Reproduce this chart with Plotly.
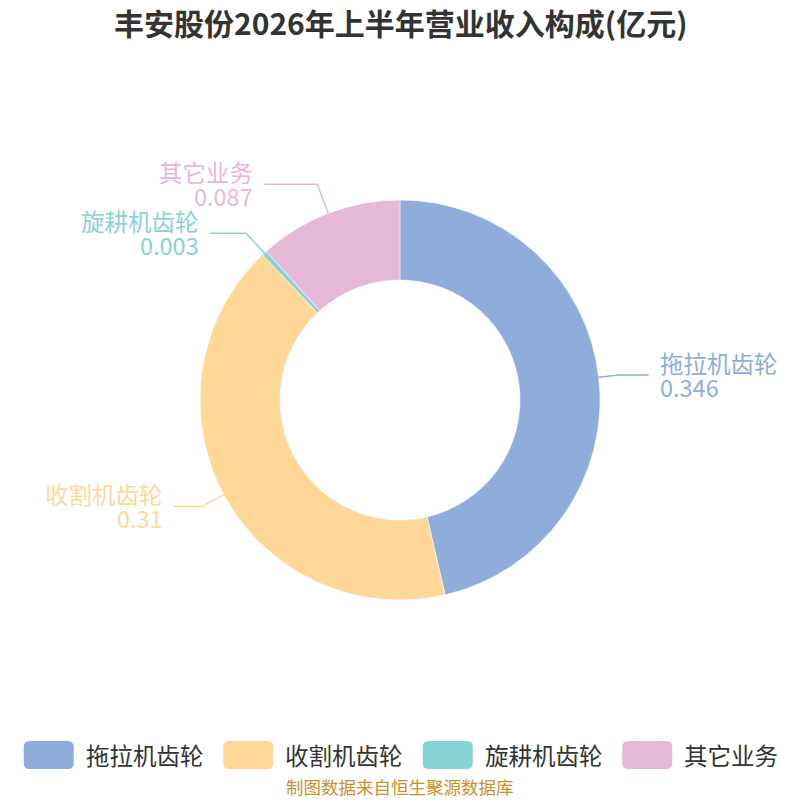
import math
import plotly.graph_objects as go

# ---- data ----
categories = ["拖拉机齿轮", "收割机齿轮", "旋耕机齿轮", "其它业务"]
values = [0.346, 0.31, 0.003, 0.087]
value_labels = ["0.346", "0.31", "0.003", "0.087"]

# ---- style ----
colors = ["#8FADDB", "#FFD899", "#86D4D6", "#E6B8D8"]
W = H = 800
CX, CY, R_OUT = 400, 400, 200
HOLE = 0.6
leader_ext = [20, 25, 27, 31]
leader_h = [30, 28, 36, 53]
label_gap = 9
FONT = "Noto Sans CJK SC, Noto Sans, sans-serif"
LABEL_SIZE = 23.5

def px(x):
    return x / W

def py(y):
    return 1 - y / H

fig = go.Figure()
fig.add_trace(go.Pie(
    labels=categories, values=values, hole=HOLE, sort=False,
    direction="clockwise", rotation=0,
    marker=dict(colors=colors, line=dict(color="white", width=0.5)),
    textinfo="none", hoverinfo="label+value", showlegend=False,
    domain=dict(x=[px(CX - R_OUT), px(CX + R_OUT)], y=[py(CY + R_OUT), py(CY - R_OUT)]),
))

shapes = []
annotations = []
total = sum(values)
cum = 0.0
for i, (cat, v, vl) in enumerate(zip(categories, values, value_labels)):
    mid = (cum + v / 2) / total * 2 * math.pi
    cum += v
    sx, sy = CX + R_OUT * math.sin(mid), CY - R_OUT * math.cos(mid)
    ex = CX + (R_OUT + leader_ext[i]) * math.sin(mid)
    ey = CY - (R_OUT + leader_ext[i]) * math.cos(mid)
    right = math.sin(mid) >= 0
    hx = ex + leader_h[i] if right else ex - leader_h[i]
    shapes.append(dict(
        type="path", xref="paper", yref="paper",
        path=f"M {px(sx)},{py(sy)} L {px(ex)},{py(ey)} L {px(hx)},{py(ey)}",
        line=dict(color=colors[i], width=1.5),
    ))
    tx = hx + label_gap if right else hx - label_gap
    anchor = "left" if right else "right"
    annotations.append(dict(
        x=px(tx), y=py(ey - 12), xref="paper", yref="paper", text=cat,
        showarrow=False, xanchor=anchor, yanchor="middle",
        font=dict(size=LABEL_SIZE, color=colors[i], family=FONT),
    ))
    annotations.append(dict(
        x=px(tx), y=py(ey + 12), xref="paper", yref="paper", text=vl,
        showarrow=False, xanchor=anchor, yanchor="middle",
        font=dict(size=LABEL_SIZE, color=colors[i], family=FONT),
    ))

# ---- manual legend ----
box_w, box_h, rad = 50, 28, 6
text_gap = 10
item_gap = 22
char_w = LABEL_SIZE
legend_y = 755
widths = [box_w + text_gap + len(c) * char_w for c in categories]
total_w = sum(widths) + item_gap * (len(categories) - 1)
x0 = (W - total_w) / 2
for i, cat in enumerate(categories):
    bx0, bx1 = x0, x0 + box_w
    by0, by1 = legend_y - box_h / 2, legend_y + box_h / 2
    p = (f"M {px(bx0 + rad)},{py(by0)} L {px(bx1 - rad)},{py(by0)} "
         f"Q {px(bx1)},{py(by0)} {px(bx1)},{py(by0 + rad)} "
         f"L {px(bx1)},{py(by1 - rad)} Q {px(bx1)},{py(by1)} {px(bx1 - rad)},{py(by1)} "
         f"L {px(bx0 + rad)},{py(by1)} Q {px(bx0)},{py(by1)} {px(bx0)},{py(by1 - rad)} "
         f"L {px(bx0)},{py(by0 + rad)} Q {px(bx0)},{py(by0)} {px(bx0 + rad)},{py(by0)} Z")
    shapes.append(dict(type="path", xref="paper", yref="paper", path=p,
                       fillcolor=colors[i], line=dict(width=0)))
    annotations.append(dict(
        x=px(bx1 + text_gap), y=py(legend_y), xref="paper", yref="paper", text=cat,
        showarrow=False, xanchor="left", yanchor="middle",
        font=dict(size=LABEL_SIZE, color="#333333", family=FONT),
    ))
    x0 += widths[i] + item_gap

# title & footer
annotations.append(dict(
    x=0.5, y=py(22), xref="paper", yref="paper",
    text="<b>丰安股份2026年上半年营业收入构成(亿元)</b>", showarrow=False,
    xanchor="center", yanchor="middle",
    font=dict(size=30, color="#333333", family=FONT),
))
annotations.append(dict(
    x=0.5, y=py(786), xref="paper", yref="paper",
    text="制图数据来自恒生聚源数据库", showarrow=False,
    xanchor="center", yanchor="middle",
    font=dict(size=17.5, color="#C8902A", family=FONT),
))

fig.update_layout(
    width=W, height=H, margin=dict(l=0, r=0, t=0, b=0),
    paper_bgcolor="white", plot_bgcolor="white",
    shapes=shapes, annotations=annotations, showlegend=False,
)
fig.write_html(
    "out.html",
    config={"displayModeBar": False},
    post_script="document.body.style.margin='0';document.body.style.overflow='hidden';",
)
